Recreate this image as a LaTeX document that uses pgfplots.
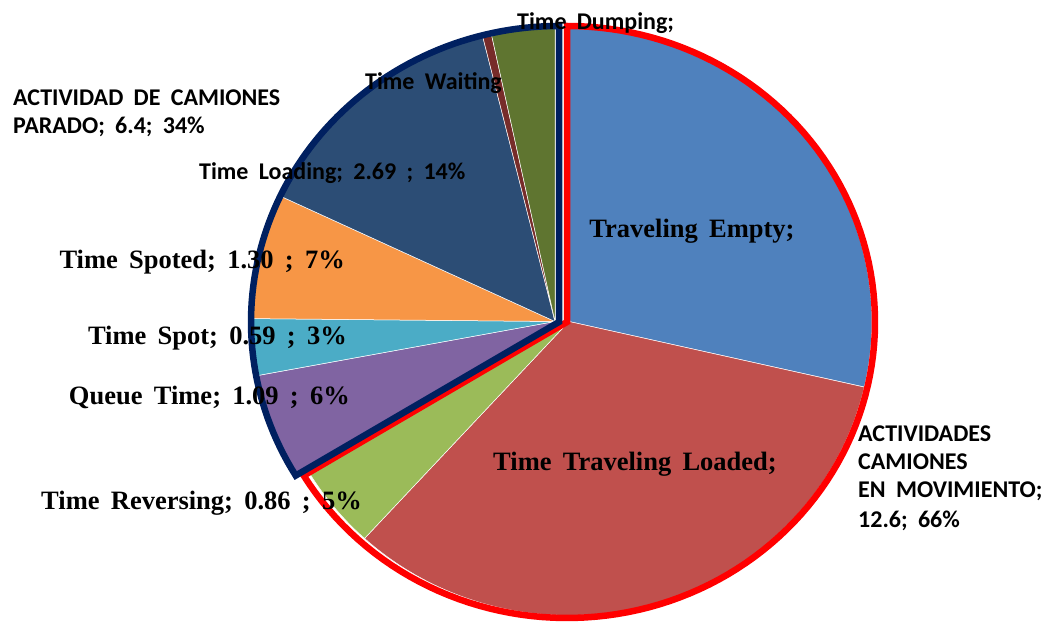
\documentclass[border=0pt]{standalone}
\usepackage{pgfplots}
\usepackage{pgfplotstable}
\pgfplotsset{compat=1.18}
\usepackage{fontspec}
\setmainfont{Liberation Serif}
\newfontfamily\lserif{Liberation Serif}[WordSpace=1.7]
\newfontfamily\lsans{Carlito}[WordSpace=1.9]

\definecolor{cTE}{HTML}{4F81BD}
\definecolor{cTL}{HTML}{C0504D}
\definecolor{cRE}{HTML}{9BBB59}
\definecolor{cQU}{HTML}{8064A2}
\definecolor{cSP}{HTML}{4BACC6}
\definecolor{cSD}{HTML}{F79646}
\definecolor{cLO}{HTML}{2C4D75}
\definecolor{cWA}{HTML}{772C2A}
\definecolor{cDU}{HTML}{5F7530}
\definecolor{navy}{HTML}{002060}

% values (minutes) in chart order, clockwise from 12 o'clock
\pgfplotstableread{
name value
TE 5.43
TL 6.31
RE 0.86
QU 1.09
SP 0.59
SD 1.30
LO 2.69
WA 0.09
DU 0.64
}\piedata

\begin{document}
\begin{tikzpicture}
\pgfplotstablegetelem{0}{value}\of\piedata \let\vA\pgfplotsretval
\pgfplotstablegetelem{1}{value}\of\piedata \let\vB\pgfplotsretval
\pgfplotstablegetelem{2}{value}\of\piedata \let\vC\pgfplotsretval
\pgfplotstablegetelem{3}{value}\of\piedata \let\vD\pgfplotsretval
\pgfplotstablegetelem{4}{value}\of\piedata \let\vE\pgfplotsretval
\pgfplotstablegetelem{5}{value}\of\piedata \let\vF\pgfplotsretval
\pgfplotstablegetelem{6}{value}\of\piedata \let\vG\pgfplotsretval
\pgfplotstablegetelem{7}{value}\of\piedata \let\vH\pgfplotsretval
\pgfplotstablegetelem{8}{value}\of\piedata \let\vI\pgfplotsretval
\pgfmathsetmacro\tot{\vA+\vB+\vC+\vD+\vE+\vF+\vG+\vH+\vI}
\pgfmathsetmacro\k{360/\tot}
\pgfmathsetmacro\aA{90}
\pgfmathsetmacro\aB{\aA-\vA*\k}
\pgfmathsetmacro\aC{\aB-\vB*\k}
\pgfmathsetmacro\aD{\aC-\vC*\k}
\pgfmathsetmacro\aE{\aD-\vD*\k}
\pgfmathsetmacro\aF{\aE-\vE*\k}
\pgfmathsetmacro\aG{\aF-\vF*\k}
\pgfmathsetmacro\aH{\aG-\vG*\k}
\pgfmathsetmacro\aI{\aH-\vH*\k}
\pgfmathsetmacro\aJ{\aI-\vI*\k}
\def\rx{303}\def\ry{294}
\def\ox{308}\def\oy{296}
\newcommand\slice[5]{%
  \addplot[fill=#5, draw=white, line width=0.5pt, domain=#4:#3, samples=90, variable=\t]
    ({#1+\rx*cos(\t)},{#2+\ry*sin(\t)}) -- (axis cs:#1,#2) -- cycle;}
\begin{axis}[at={(0,0)}, anchor=south west, scale only axis,
  width=1053pt, height=623pt, xmin=0, xmax=1053, ymin=0, ymax=623,
  axis lines=none, ticks=none, clip=false]
% moving group
\slice{569}{301.5}{\aA}{\aB}{cTE}
\slice{569}{301.5}{\aB}{\aC}{cTL}
\slice{569}{301.5}{\aC}{\aD}{cRE}
% stopped group
\slice{555}{301.5}{\aD}{\aE}{cQU}
\slice{555}{301.5}{\aE}{\aF}{cSP}
\slice{555}{301.5}{\aF}{\aG}{cSD}
\slice{555}{301.5}{\aG}{\aH}{cLO}
\slice{555}{301.5}{\aH}{\aI}{cWA}
\slice{555}{301.5}{\aI}{\aJ}{cDU}
% group outlines
\addplot[draw=red, line width=6.5pt, line join=miter, domain=\aD:\aA, samples=120, variable=\t]
  ({567+\ox*cos(\t)},{301+\oy*sin(\t)}) -- (axis cs:567,301) -- cycle;
\addplot[draw=navy, line width=6.5pt, line join=miter, domain=\aJ:\aD, samples=80, variable=\t]
  ({559+\ox*cos(\t)},{301+\oy*sin(\t)}) -- (axis cs:559,301) -- cycle;
% labels
\begin{scope}[font=\lserif\bfseries\fontsize{26.5}{30}\selectfont]
\node[anchor=base] at (axis cs:692,385) {Traveling Empty;};
\node[anchor=base] at (axis cs:635,152) {Time Traveling Loaded;};
\node[anchor=base east, inner sep=0pt] at (axis cs:345,354) {Time Spoted; 1.30 ; 7\%};
\node[anchor=base east, inner sep=0pt] at (axis cs:347,278) {Time Spot; 0.59 ; 3\%};
\node[anchor=base east, inner sep=0pt] at (axis cs:350,218) {Queue Time; 1.09 ; 6\%};
\node[anchor=base east, inner sep=0pt] at (axis cs:362,113) {Time Reversing; 0.86 ; 5\%};
\end{scope}
\begin{scope}[font=\lsans\bfseries\fontsize{24}{28}\selectfont]
\node[anchor=base west, inner sep=0pt] at (axis cs:199,443) {Time Loading; 2.69 ; 14\%};
\node[anchor=base west, inner sep=0pt] at (axis cs:365,533) {Time Waiting};
\node[anchor=base west, inner sep=0pt] at (axis cs:517,593) {Time Dumping;};
\node[anchor=base west, inner sep=0pt] at (axis cs:13,517) {ACTIVIDAD DE CAMIONES};
\node[anchor=base west, inner sep=0pt] at (axis cs:13,489) {PARADO; 6.4; 34\%};
\node[anchor=base west, inner sep=0pt] at (axis cs:858,181) {ACTIVIDADES};
\node[anchor=base west, inner sep=0pt] at (axis cs:858,153) {CAMIONES};
\node[anchor=base west, inner sep=0pt] at (axis cs:858,125) {EN MOVIMIENTO;};
\node[anchor=base west, inner sep=0pt] at (axis cs:858,95) {12.6; 66\%};
\end{scope}
\end{axis}
\pgfresetboundingbox
\useasboundingbox (0,0) rectangle (1053pt,623pt);
\end{tikzpicture}
\end{document}
